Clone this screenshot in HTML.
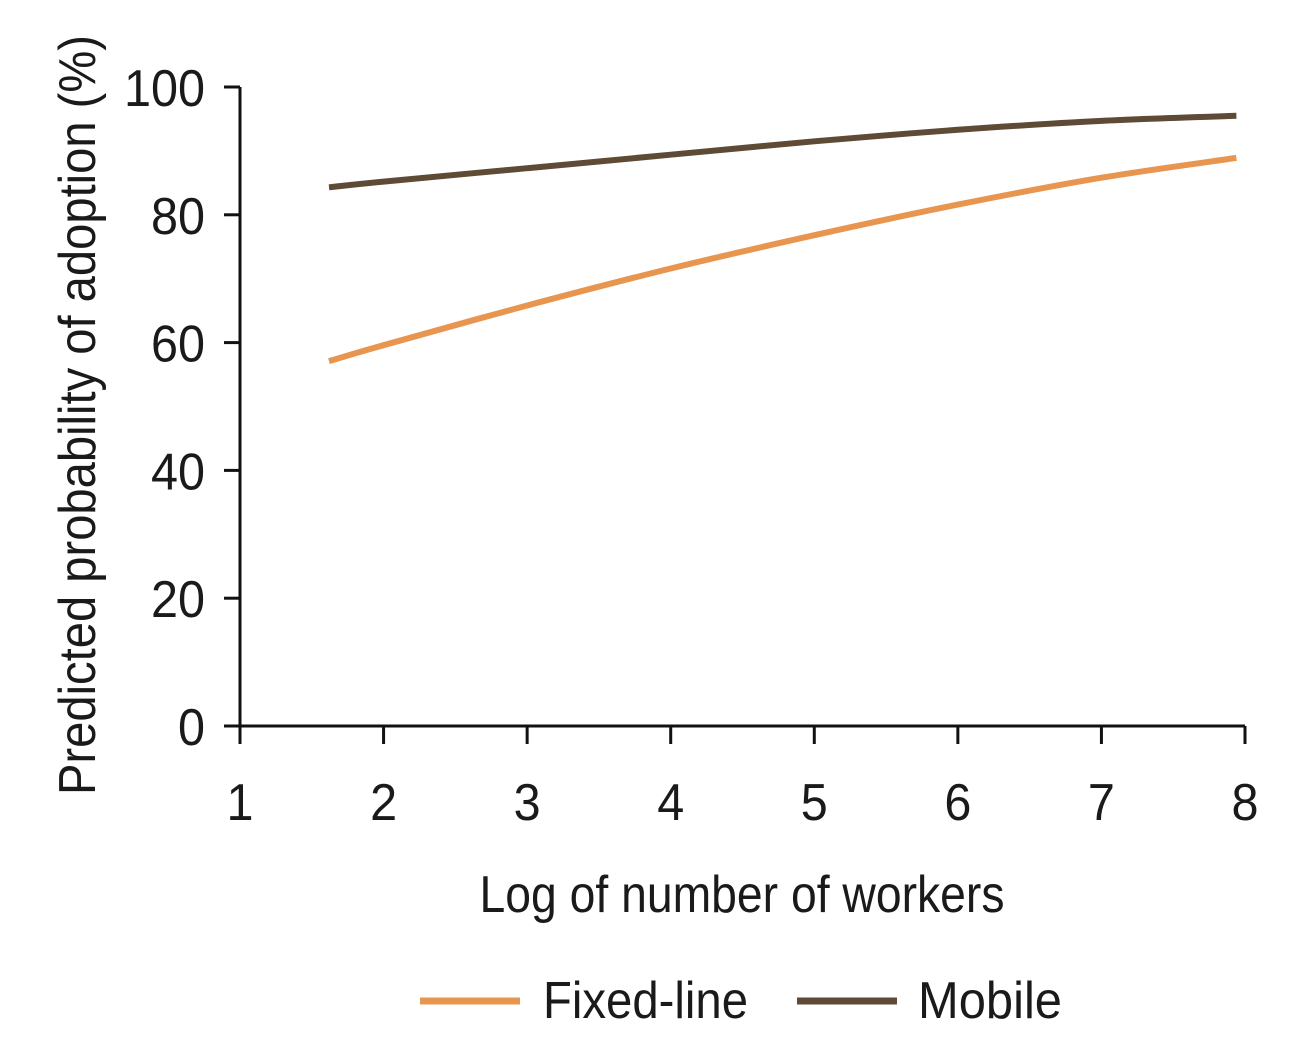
<!DOCTYPE html>
<html><head><meta charset="utf-8"><style>
html,body{margin:0;padding:0;background:#fff;}
svg text{font-family:"Liberation Sans Narrow","Liberation Sans",sans-serif;fill:#1a1a1a;}
</style></head><body>
<svg width="1314" height="1046" viewBox="0 0 1314 1046">
<g id="axes"></g><g id="series"></g><g id="legend"></g>
</svg>
<script>
const xTicks=[1,2,3,4,5,6,7,8];
const yTicks=[0,20,40,60,80,100];
const xVals=[1.62,2,3,4,5,6,7,7.94];
const fixedLine=[57.1,59.6,65.8,71.6,76.8,81.6,85.8,88.9];
const mobile=[84.3,85.2,87.3,89.4,91.5,93.3,94.7,95.5];
const NS="http://www.w3.org/2000/svg";
const X=v=>240+(v-1)*(1245-240)/7;
const Y=v=>726-v*(726-87)/100;
function mk(t,a,p){const e=document.createElementNS(NS,t);for(const k in a)e.setAttribute(k,a[k]);p.appendChild(e);return e;}
const ax=document.getElementById('axes');
let l=mk('line',{x1:240,y1:Y(0),x2:1245,y2:Y(0),stroke:'#111','stroke-width':3},ax);


l=mk('line',{x1:240,y1:Y(0),x2:240,y2:Y(100),stroke:'#111','stroke-width':3},ax);


xTicks.forEach(v=>{
 const t=mk('line',{x1:X(v),y1:726,x2:X(v),y2:744,stroke:'#111','stroke-width':3},ax);
 
 
 const tx=mk('text',{x:X(v),y:820,'text-anchor':'middle','font-size':52,textLength:27,lengthAdjust:'spacingAndGlyphs'},ax);tx.textContent=v;
 
 
});
yTicks.forEach(v=>{
 const t=mk('line',{x1:224,y1:Y(v),x2:240,y2:Y(v),stroke:'#111','stroke-width':3},ax);
 
 
 const s=String(v);
 const tx=mk('text',{x:205,y:Y(v)+19,'text-anchor':'end','font-size':52,textLength:27*s.length,lengthAdjust:'spacingAndGlyphs'},ax);tx.textContent=s;
 
 
});
let tt=mk('text',{x:742,y:912,'text-anchor':'middle','font-size':52,textLength:525,lengthAdjust:'spacingAndGlyphs'},ax);tt.textContent='Log of number of workers';


tt=mk('text',{x:0,y:0,'text-anchor':'middle','font-size':52,textLength:760,lengthAdjust:'spacingAndGlyphs',transform:'translate(95,415) rotate(-90)'},ax);tt.textContent='Predicted probability of adoption (%)';


const se=document.getElementById('series');
function line(vals,color,name){
 const P=vals.map((v,i)=>[X(xVals[i]),Y(v)]);
 let d='M'+P[0][0].toFixed(1)+' '+P[0][1].toFixed(1);
 for(let i=0;i<P.length-1;i++){
  const p0=P[Math.max(i-1,0)],p1=P[i],p2=P[i+1],p3=P[Math.min(i+2,P.length-1)];
  const c1=[p1[0]+(p2[0]-p0[0])/6,p1[1]+(p2[1]-p0[1])/6];
  const c2=[p2[0]-(p3[0]-p1[0])/6,p2[1]-(p3[1]-p1[1])/6];
  d+=' C'+c1.map(n=>n.toFixed(1)).join(' ')+' '+c2.map(n=>n.toFixed(1)).join(' ')+' '+p2.map(n=>n.toFixed(1)).join(' ');
 }
 const p=mk('path',{d:d,fill:'none',stroke:color,'stroke-width':6},se);
 
 
}
line(fixedLine,'#e8954f','fixed-line-series');
line(mobile,'#5e4a35','mobile-series');
const lg=document.getElementById('legend');
[['Fixed-line','#e8954f',420,543,205],['Mobile','#5e4a35',797,918,144]].forEach(([n,c,x,tx,w])=>{
 const s=mk('line',{x1:x,y1:1001,x2:x+100,y2:1001,stroke:c,'stroke-width':7},lg);
 
 
 const t=mk('text',{x:tx,y:1018,'font-size':52,textLength:w,lengthAdjust:'spacingAndGlyphs'},lg);t.textContent=n;
 
 
});
</script>
</body></html>
